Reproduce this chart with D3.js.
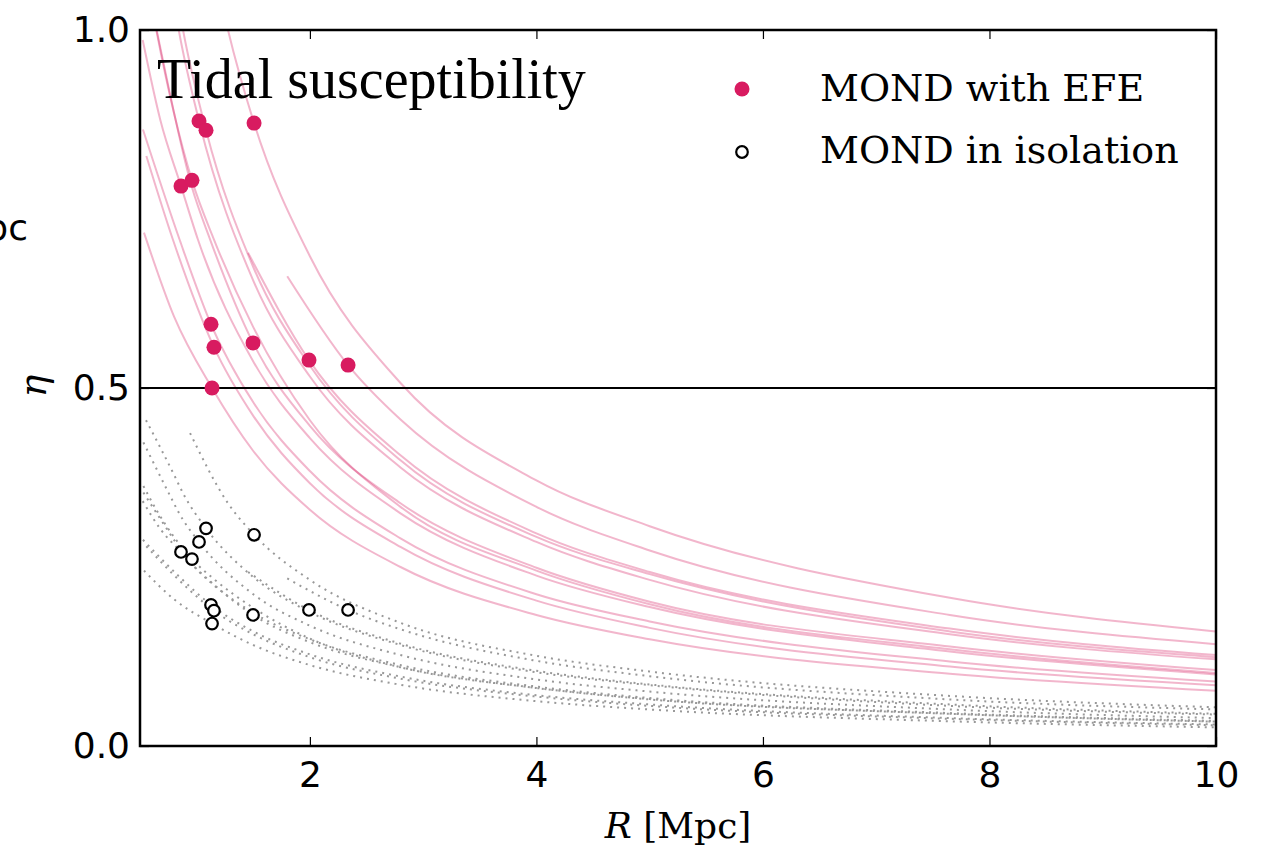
<!DOCTYPE html>
<html>
<head>
<meta charset="utf-8">
<script src="https://cdn.jsdelivr.net/npm/d3@7"></script>
<style>
  body { margin: 0; background: #fff; }
  svg { display: block; }
</style>
</head>
<body>
<svg width="1267" height="850"></svg>
<script>
// galassie: distanza dal host e suscettibilita' mareale (punti)
var galaxyR      = [0.862, 0.959, 1.021, 1.083, 1.507, 1.127, 1.153, 1.498, 1.992, 2.337, 1.136];
var etaEFE       = [0.782, 0.790, 0.873, 0.860, 0.870, 0.589, 0.557, 0.563, 0.539, 0.532, 0.500];
var etaIsolation = [0.271, 0.261, 0.285, 0.304, 0.295, 0.197, 0.189, 0.183, 0.190, 0.190, 0.171];

var xTicks = [2, 4, 6, 8, 10];
var yTicks = [0.0, 0.5, 1.0];

// curve eta(R) con EFE (rosa), punti [R, eta]
var efeCurves = [
  [[0.942,1.27],[1.277,1.0],[1.507,0.870],[2.0,0.684],[2.8,0.507],[4,0.371],[5,0.307],[7.65,0.207],[10,0.160]],
  [[1.80,0.656],[2.337,0.532],[2.8,0.456],[4,0.334],[5,0.273],[7.65,0.183],[10,0.142]],
  [[1.454,0.689],[1.992,0.539],[2.8,0.406],[4,0.297],[5,0.243],[7.65,0.164],[10,0.127]],
  [[0.553,1.29],[0.80,1.073],[0.88,1.0],[1.083,0.860],[1.5,0.669],[2.0,0.531],[2.8,0.399],[4,0.292],[5,0.240],[7.65,0.160],[10,0.124]],
  [[0.53,1.30],[0.78,1.057],[0.842,1.0],[1.021,0.873],[1.5,0.650],[2.0,0.516],[2.8,0.389],[4,0.285],[5,0.232],[7.65,0.156],[10,0.121]],
  [[0.53,1.09],[0.66,0.99],[0.959,0.78],[1.12,0.707],[1.498,0.563],[2.0,0.447],[2.8,0.339],[4,0.249],[5,0.2015],[7.65,0.139],[10,0.106]],
  [[0.53,1.10],[0.644,1.0],[0.959,0.790],[1.154,0.707],[1.5,0.585],[2.0,0.455],[2.8,0.334],[4,0.245],[5,0.198],[7.65,0.135],[10,0.102]],
  [[0.524,0.986],[0.68,0.874],[0.862,0.782],[1.012,0.707],[1.5,0.537],[2.0,0.430],[2.8,0.325],[4,0.238],[5,0.194],[7.65,0.132],[10,0.100]],
  [[0.526,0.861],[0.85,0.707],[1.127,0.589],[1.5,0.480],[2.0,0.384],[2.8,0.290],[4,0.212],[5,0.174],[7.65,0.118],[10,0.090]],
  [[0.556,0.824],[0.791,0.707],[1.153,0.557],[1.5,0.461],[2.0,0.367],[2.8,0.278],[4,0.203],[5,0.165],[7.65,0.111],[10,0.085]],
  [[0.535,0.717],[0.8,0.600],[1.136,0.500],[1.5,0.412],[2.0,0.330],[2.8,0.250],[4,0.183],[5,0.149],[7.65,0.101],[10,0.077]]
];

// curve eta(R) in isolamento (grigie puntinate)
var isoCurves = [
  [[0.942,0.437],[1.277,0.339],[1.507,0.295],[2.0,0.232],[2.8,0.172],[4,0.126],[5,0.104],[7.65,0.070],[10,0.054]],
  [[1.80,0.234],[2.337,0.190],[2.8,0.163],[4,0.119],[5,0.0975],[7.65,0.065],[10,0.051]],
  [[1.454,0.243],[1.992,0.190],[2.8,0.143],[4,0.105],[5,0.086],[7.65,0.058],[10,0.045]],
  [[0.553,0.455],[0.80,0.379],[0.88,0.353],[1.083,0.304],[1.5,0.236],[2.0,0.187],[2.8,0.141],[4,0.103],[5,0.085],[7.65,0.056],[10,0.044]],
  [[0.53,0.424],[0.78,0.345],[0.842,0.326],[1.021,0.285],[1.5,0.212],[2.0,0.168],[2.8,0.127],[4,0.093],[5,0.076],[7.65,0.051],[10,0.039]],
  [[0.53,0.354],[0.66,0.322],[0.959,0.254],[1.12,0.230],[1.498,0.183],[2.0,0.145],[2.8,0.110],[4,0.081],[5,0.0655],[7.65,0.045],[10,0.034]],
  [[0.53,0.363],[0.644,0.330],[0.959,0.261],[1.154,0.233],[1.5,0.193],[2.0,0.150],[2.8,0.110],[4,0.081],[5,0.065],[7.65,0.045],[10,0.034]],
  [[0.524,0.342],[0.68,0.303],[0.862,0.271],[1.012,0.245],[1.5,0.186],[2.0,0.149],[2.8,0.113],[4,0.083],[5,0.067],[7.65,0.046],[10,0.035]],
  [[0.526,0.288],[0.85,0.236],[1.127,0.197],[1.5,0.160],[2.0,0.128],[2.8,0.097],[4,0.071],[5,0.058],[7.65,0.039],[10,0.030]],
  [[0.556,0.279],[0.791,0.240],[1.153,0.189],[1.5,0.156],[2.0,0.124],[2.8,0.094],[4,0.069],[5,0.056],[7.65,0.038],[10,0.029]],
  [[0.535,0.245],[0.8,0.205],[1.136,0.171],[1.5,0.141],[2.0,0.113],[2.8,0.0855],[4,0.0626],[5,0.051],[7.65,0.0345],[10,0.026]]
];

var pink = "#d81b60";

var svg = d3.select("svg");
var plot = {left: 140, right: 1216, top: 30, bottom: 746};

var x = d3.scaleLinear().domain([0.5, 10]).range([plot.left, plot.right]);
var y = d3.scaleLinear().domain([0, 1]).range([plot.bottom, plot.top]);

svg.append("defs").append("clipPath").attr("id", "clip")
  .append("rect")
  .attr("x", plot.left).attr("y", plot.top)
  .attr("width", plot.right - plot.left).attr("height", plot.bottom - plot.top);

var line = d3.line()
  .x(function(d) { return x(d[0]); })
  .y(function(d) { return y(d[1]); })
  .curve(d3.curveMonotoneX);

var g = svg.append("g").attr("clip-path", "url(#clip)");

// isolamento: linee grigie puntinate
g.selectAll(".iso").data(isoCurves).enter().append("path")
  .attr("class", "iso")
  .attr("d", line)
  .attr("fill", "none")
  .attr("stroke", "#999")
  .attr("stroke-width", 2)
  .attr("stroke-dasharray", "2,5");

// EFE: linee rosa trasparenti
g.selectAll(".efe").data(efeCurves).enter().append("path")
  .attr("class", "efe")
  .attr("d", line)
  .attr("fill", "none")
  .attr("stroke", pink)
  .attr("stroke-opacity", 0.32)
  .attr("stroke-width", 2);

// linea orizzontale eta = 0.5
g.append("line")
  .attr("x1", plot.left).attr("x2", plot.right)
  .attr("y1", y(0.5)).attr("y2", y(0.5))
  .attr("stroke", "#000").attr("stroke-width", 2);

// punti
g.selectAll(".iso-pt").data(galaxyR).enter().append("circle")
  .attr("cx", function(d) { return x(d); })
  .attr("cy", function(d, i) { return y(etaIsolation[i]); })
  .attr("r", 5.8)
  .attr("fill", "#fff")
  .attr("stroke", "#000")
  .attr("stroke-width", 2.2);

g.selectAll(".efe-pt").data(galaxyR).enter().append("circle")
  .attr("cx", function(d) { return x(d); })
  .attr("cy", function(d, i) { return y(etaEFE[i]); })
  .attr("r", 7.5)
  .attr("fill", pink);

//////////// ASSI ////////////
function styleAxis(sel) {
  sel.select(".domain").remove();
  sel.selectAll(".tick line").attr("stroke", "#000").attr("stroke-width", 1.2);
  sel.selectAll("text")
    .attr("fill", "#000")
    .style("font-family", "DejaVu Sans")
    .style("font-size", "36px");
}

svg.append("g")
  .attr("transform", "translate(0," + plot.bottom + ")")
  .call(d3.axisBottom(x).tickValues(xTicks).tickSize(-9).tickPadding(15).tickFormat(d3.format("d")))
  .call(styleAxis);

svg.append("g")
  .attr("transform", "translate(0," + plot.top + ")")
  .call(d3.axisTop(x).tickValues(xTicks).tickSize(-9).tickFormat(""))
  .call(styleAxis);

svg.append("g")
  .attr("transform", "translate(" + plot.left + ",0)")
  .call(d3.axisLeft(y).tickValues(yTicks).tickSize(-9).tickPadding(10).tickFormat(d3.format(".1f")))
  .call(styleAxis);

svg.append("g")
  .attr("transform", "translate(" + plot.right + ",0)")
  .call(d3.axisRight(y).tickValues(yTicks).tickSize(-9).tickFormat(""))
  .call(styleAxis);

// cornice
svg.append("rect")
  .attr("x", plot.left).attr("y", plot.top)
  .attr("width", plot.right - plot.left).attr("height", plot.bottom - plot.top)
  .attr("fill", "none").attr("stroke", "#000").attr("stroke-width", 2.5);

//////////// TESTI ////////////
svg.append("text")
  .attr("x", 157).attr("y", 98)
  .style("font-family", "Liberation Serif")
  .style("font-size", "56px")
  .text("Tidal susceptibility");

var xlab = svg.append("text")
  .attr("x", (plot.left + plot.right) / 2).attr("y", 838)
  .attr("text-anchor", "middle")
  .style("font-family", "DejaVu Serif")
  .style("font-size", "36px");
xlab.append("tspan").style("font-style", "italic").text("R");
xlab.append("tspan").text(" [Mpc]");

svg.append("text")
  .attr("transform", "translate(46,386) rotate(-90)")
  .attr("text-anchor", "middle")
  .style("font-family", "DejaVu Serif")
  .style("font-style", "italic")
  .style("font-size", "38px")
  .text("η");

// pezzo di etichetta del pannello vicino (tagliata anche nell'originale)
svg.append("text")
  .attr("x", 28).attr("y", 240)
  .attr("text-anchor", "end")
  .style("font-family", "DejaVu Sans")
  .style("font-size", "36px")
  .text("kpc");

// legenda
var legend = svg.append("g");
legend.append("circle").attr("cx", 742).attr("cy", 89).attr("r", 7.5).attr("fill", pink);
legend.append("circle").attr("cx", 742).attr("cy", 152).attr("r", 5.8)
  .attr("fill", "#fff").attr("stroke", "#000").attr("stroke-width", 2.2);
legend.append("text").attr("x", 820).attr("y", 101)
  .style("font-family", "DejaVu Serif").style("font-size", "38px")
  .text("MOND with EFE");
legend.append("text").attr("x", 820).attr("y", 163)
  .style("font-family", "DejaVu Serif").style("font-size", "38px")
  .text("MOND in isolation");
</script>
</body>
</html>
